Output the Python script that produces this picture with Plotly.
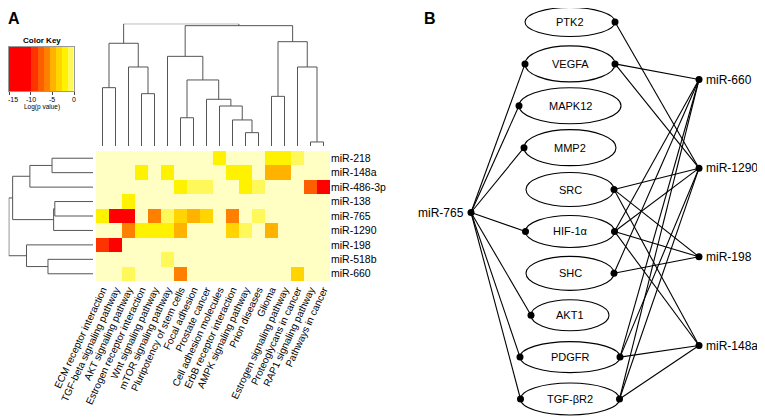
import plotly.graph_objects as go
import numpy as np

# ---------------- DATA ----------------
pathways = ["ECM receptor interaction", "TGF-beta signaling pathway", "AKT signaling pathway",
            "Estrogen receptor interaction", "Wnt signaling pathway", "mTOR signaling pathway",
            "Pluripotency of stem cells", "Focal adhesion", "Prostate cancer",
            "Cell adhesion molecules", "ErbB receptor interaction", "AMPK signaling pathway",
            "Prion diseases", "Glioma", "Estrogen signaling pathway", "Proteoglycans in cancer",
            "RAP1 signaling pathway", "Pathways in cancer"]
mirnas = ["miR-218", "miR-148a", "miR-486-3p", "miR-138", "miR-765", "miR-1290",
          "miR-198", "miR-518b", "miR-660"]

# log(p value) per miRNA row (0 = not significant)
logp_miR218  = [0, 0, 0, 0, 0, 0, 0, 0, 0, -2.1, 0, 0, 0, -2.1, -2.1, -0.8, 0, 0]
logp_miR148a = [0, 0, 0, -1.8, 0, -1.8, 0, 0, 0, 0, -1.8, -1.8, 0, -4.9, -4.9, 0, 0, 0]
logp_miR486  = [0, 0, 0, 0, 0, 0, -2.4, -1.2, -1.2, 0, 0, -2.4, -1.2, 0, 0, 0, -7.7, -12]
logp_miR138  = [0, 0, -2.1, 0, 0, 0, 0, 0, 0, 0, 0, 0, 0, 0, 0, 0, 0, 0]
logp_miR765  = [-2.1, -12, -12, 0, -6.3, -1.2, -3.5, -4.9, -3.5, 0, -6.3, 0, -1.2, 0, 0, 0, 0, 0]
logp_miR1290 = [0, 0, -6.3, -1.8, -1.8, -1.8, -4.9, 0, 0, 0, -3.5, -1.2, 0, -4.9, 0, 0, 0, 0]
logp_miR198  = [-9, -11, 0, 0, 0, 0, 0, 0, 0, 0, 0, 0, 0, 0, 0, 0, 0, 0]
logp_miR518b = [0, 0, 0, 0, 0, -1.2, 0, 0, 0, 0, 0, 0, 0, 0, 0, 0, 0, 0]
logp_miR660  = [0, 0, -1.2, 0, 0, 0, -6.3, 0, 0, 0, 0, 0, 0, 0, 0, -3.5, 0, 0]

# hclust-style merges (negative = leaf, positive = earlier merge, 1-based)
col_merge = [[-1, -2], [-4, -5], [-3, 2], [1, 3], [-7, -8], [-12, -13], [-11, 6], [-10, 7],
             [-9, 8], [5, 9], [-6, 10], [-14, -15], [-17, -18], [-16, 13], [12, 14], [11, 15], [4, 16]]
col_height = [0.477, 0.428, 0.646, 0.840, 0.231, 0.109, 0.213, 0.327, 0.382, 0.540, 0.733,
              0.406, 0.033, 0.646, 0.853, 0.984, 1.0]
row_merge = [[-1, -2], [-3, 1], [-4, -5], [-6, 3], [2, 4], [-8, -9], [-7, 6], [5, 7]]
row_height = [0.487, 0.750, 0.454, 0.468, 0.955, 0.535, 0.79, 1.0]

key_ticks = [-15, -10, -5, 0]
key_breaks = [-15, -9.8, -8.4, -7.0, -5.6, -4.2, -2.8, -1.4, -0.2, 0]

# network
genes = ["PTK2", "VEGFA", "MAPK12", "MMP2", "SRC", "HIF-1α", "SHC", "AKT1", "PDGFR", "TGF-βR2"]
hub = "miR-765"
hub_targets = ["VEGFA", "MAPK12", "MMP2", "HIF-1α", "AKT1", "PDGFR", "TGF-βR2"]
right_mirs = ["miR-660", "miR-1290", "miR-198", "miR-148a"]
right_targets = {
    "miR-660": ["VEGFA", "HIF-1α", "SHC", "PDGFR", "TGF-βR2"],
    "miR-1290": ["PTK2", "VEGFA", "SRC", "HIF-1α", "PDGFR", "TGF-βR2"],
    "miR-198": ["SRC", "HIF-1α", "SHC"],
    "miR-148a": ["SRC", "HIF-1α", "PDGFR", "TGF-βR2"],
}

# ---------------- STYLE / LAYOUT ----------------
W, H = 765, 420
OFF = 8  # page body margin compensation
FONT = "Liberation Sans, Arial, sans-serif"
key_colors = ["#FF0000", "#FF3300", "#FF5E00", "#FF8000", "#FFB300", "#FFD400",
              "#FFF200", "#FFF85A", "#FFFFC4"]
DEND = "#555555"
ell_rx = [45, 45, 51, 46, 44, 44.5, 44, 39, 50, 49.5]
ell_ry = [14.5, 18, 18, 18, 17, 16, 17, 15.5, 15.5, 16]
KEY_L, KEY_R = 9, 74

def clamp(v):
    return min(max(v, 0.0), 1.0)

def px_x(a, b):
    return [clamp((a - OFF) / W), clamp((b - OFF) / W)]

def px_y(top, bottom):
    return [clamp(1 - (bottom - OFF) / H), clamp(1 - (top - OFF) / H)]

def pap(x, y):
    return (x - OFF) / W, 1 - (y - OFF) / H

lo, hi = key_breaks[0], key_breaks[-1]
cscale = []
for i, c in enumerate(key_colors):
    a = (key_breaks[i] - lo) / (hi - lo)
    b = (key_breaks[i + 1] - lo) / (hi - lo)
    cscale.append([a, c])
    cscale.append([b, c])

z = [logp_miR218, logp_miR148a, logp_miR486, logp_miR138, logp_miR765,
     logp_miR1290, logp_miR198, logp_miR518b, logp_miR660]

fig = go.Figure()

# heatmap
fig.add_trace(go.Heatmap(z=z, x=list(range(len(pathways))), y=list(range(len(mirnas))),
                         colorscale=cscale, zmin=lo, zmax=hi, showscale=False,
                         xaxis="x", yaxis="y", hoverinfo="skip"))

def dendro(merge, heights):
    pos, hh = {}, {}
    P, Hh = [], []
    def get(r):
        if r < 0:
            return -r - 1, 0.0
        return pos[r], hh[r]
    for k, (a, b) in enumerate(merge, start=1):
        pa, ha = get(a)
        pb, hb = get(b)
        hk = heights[k - 1]
        P += [pa, pa, pb, pb, None]
        Hh += [ha, hk, hk, hb, None]
        pos[k] = (pa + pb) / 2
        hh[k] = hk
    return P, Hh

cp, ch = dendro(col_merge, col_height)
fig.add_trace(go.Scatter(x=cp, y=ch, mode="lines", line=dict(color=DEND, width=1),
                         xaxis="x2", yaxis="y2", hoverinfo="skip", showlegend=False))
rp, rh = dendro(row_merge, row_height)
fig.add_trace(go.Scatter(x=rh, y=rp, mode="lines", line=dict(color=DEND, width=1),
                         xaxis="x3", yaxis="y3", hoverinfo="skip", showlegend=False))

# color key
kx = np.linspace(lo, hi, 601)
fig.add_trace(go.Heatmap(z=[kx.tolist()], x=kx.tolist(), y=[0], colorscale=cscale,
                         zmin=lo, zmax=hi, showscale=False, xaxis="x5", yaxis="y5",
                         hoverinfo="skip"))

# network (axis 4 is in page pixels)
gy = np.linspace(22, 399, len(genes))
gcx = 570
gpos = {g: (gcx, gy[i], ell_rx[i]) for i, g in enumerate(genes)}
hub_xy = (471, (gy[0] + gy[-1]) / 2 + 2)
my = np.linspace(79.5, 345.5, len(right_mirs))
mx = 699
mpos = {m: (mx, my[i]) for i, m in enumerate(right_mirs)}

ex, ey = [], []
for g in hub_targets:
    cx, cy, rx = gpos[g]
    ex += [hub_xy[0], cx - rx, None]
    ey += [hub_xy[1], cy, None]
for m in right_mirs:
    for g in right_targets[m]:
        cx, cy, rx = gpos[g]
        ex += [mpos[m][0], cx + rx, None]
        ey += [mpos[m][1], cy, None]
fig.add_trace(go.Scatter(x=ex, y=ey, mode="lines", line=dict(color="black", width=1.1),
                         xaxis="x4", yaxis="y4", hoverinfo="skip", showlegend=False))

right_set = set(g for m in right_mirs for g in right_targets[m])
dx, dy = [], []
for g in genes:
    cx, cy, rx = gpos[g]
    if g in hub_targets:
        dx.append(cx - rx); dy.append(cy)
    if g in right_set:
        dx.append(cx + rx); dy.append(cy)
dx.append(hub_xy[0]); dy.append(hub_xy[1])
for m in right_mirs:
    dx.append(mpos[m][0]); dy.append(mpos[m][1])
fig.add_trace(go.Scatter(x=dx, y=dy, mode="markers", marker=dict(color="black", size=7),
                         xaxis="x4", yaxis="y4", hoverinfo="skip", showlegend=False))

shapes = []
annotations = []
for i, g in enumerate(genes):
    cx, cy, rx = gpos[g]
    ry = ell_ry[i]
    shapes.append(dict(type="circle", xref="x4", yref="y4", x0=cx - rx, x1=cx + rx,
                       y0=cy - ry, y1=cy + ry, line=dict(color="black", width=1.1),
                       fillcolor="rgba(0,0,0,0)", layer="above"))
    annotations.append(dict(x=cx, y=cy, xref="x4", yref="y4", text=g, showarrow=False,
                            xanchor="center", yanchor="middle",
                            font=dict(size=11, color="black", family=FONT)))
annotations.append(dict(x=hub_xy[0], y=hub_xy[1], xref="x4", yref="y4", text=hub,
                        showarrow=False, xanchor="right", yanchor="middle", xshift=-5,
                        font=dict(size=12, color="black", family=FONT)))
for m in right_mirs:
    annotations.append(dict(x=mpos[m][0], y=mpos[m][1], xref="x4", yref="y4", text=m,
                            showarrow=False, xanchor="left", yanchor="middle", xshift=5,
                            font=dict(size=12, color="black", family=FONT)))

def paper_text(x, y, text, size, xanchor="center", yanchor="middle"):
    px, py = pap(x, y)
    annotations.append(dict(x=px, y=py, xref="paper", yref="paper", text=text,
                            showarrow=False, xanchor=xanchor, yanchor=yanchor,
                            font=dict(size=size, color="black", family=FONT)))

paper_text(14, 8.5, "<b>A</b>", 16, yanchor="top")
paper_text(430, 8.5, "<b>B</b>", 16, yanchor="top")
paper_text(41.5, 41, "<b>Color Key</b>", 8)
paper_text(41.5, 107, "Log(p value)", 6.5)
for t in key_ticks:
    tx = KEY_L + (t - lo) / (hi - lo) * (KEY_R - KEY_L)
    paper_text(max(tx, 13), 99, str(t), 7)

hidden = dict(visible=False, showgrid=False, zeroline=False, automargin=False)

fig.update_layout(
    width=W, height=H, margin=dict(l=0, r=0, t=0, b=0, autoexpand=False),
    paper_bgcolor="white", plot_bgcolor="rgba(0,0,0,0)",
    showlegend=False, font=dict(family=FONT, color="black"),
    xaxis=dict(domain=px_x(96, 330), range=[-0.5, len(pathways) - 0.5],
               tickmode="array", tickvals=list(range(len(pathways))), ticktext=pathways,
               tickangle=-65, tickfont=dict(size=10, family=FONT), ticks="",
               showgrid=False, zeroline=False, showline=False, anchor="y", automargin=False),
    yaxis=dict(domain=px_y(151, 281), range=[len(mirnas) - 0.5, -0.5], side="right",
               tickmode="array", tickvals=list(range(len(mirnas))), ticktext=mirnas,
               tickfont=dict(size=10.5, family=FONT), ticks="",
               showgrid=False, zeroline=False, showline=False, anchor="x", automargin=False),
    xaxis2=dict(domain=px_x(96, 330), range=[-0.5, len(pathways) - 0.5], anchor="y2", **hidden),
    yaxis2=dict(domain=px_y(23.7, 146), range=[0, 1], anchor="x2", **hidden),
    xaxis3=dict(domain=px_x(8.6, 93), range=[1.003, 0], anchor="y3", **hidden),
    yaxis3=dict(domain=px_y(151, 281), range=[len(mirnas) - 0.5, -0.5], anchor="x3", **hidden),
    xaxis4=dict(domain=[0, 1], range=[OFF, W + OFF], anchor="y4", **hidden),
    yaxis4=dict(domain=[0, 1], range=[H + OFF, OFF], anchor="x4", **hidden),
    xaxis5=dict(domain=px_x(KEY_L, KEY_R), range=[lo, hi], anchor="y5", tickmode="array",
                tickvals=key_ticks, showticklabels=False, ticks="outside",
                ticklen=3, tickwidth=0.8, tickcolor="#444",
                showgrid=False, zeroline=False, showline=True, linecolor="#999", linewidth=0.6,
                mirror=True, automargin=False),
    yaxis5=dict(domain=px_y(47, 91), range=[-0.5, 0.5], anchor="x5", showticklabels=False,
                ticks="", showgrid=False, zeroline=False, showline=True, linecolor="#999",
                linewidth=0.6, mirror=True, automargin=False),
    shapes=shapes, annotations=annotations,
)

fig.write_html("out.html")
